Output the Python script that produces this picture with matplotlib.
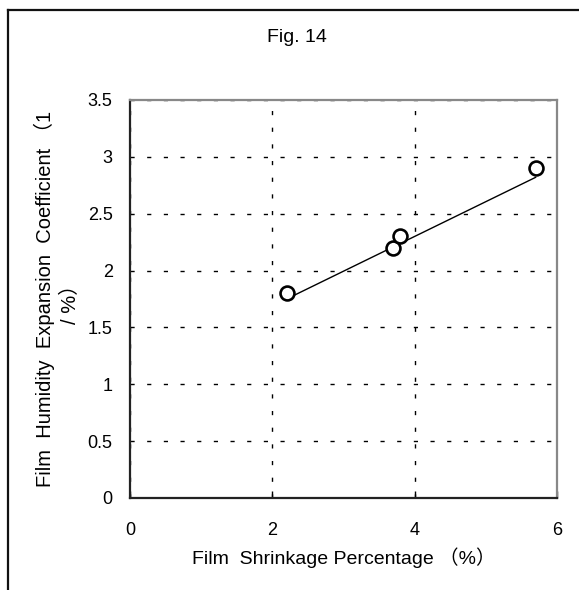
import matplotlib
matplotlib.use("Agg")
import matplotlib.pyplot as plt
from matplotlib.lines import Line2D

# ---- data ----
shrinkage = [2.2, 3.7, 3.8, 5.7]          # Film shrinkage percentage (%)
expansion = [1.8, 2.2, 2.3, 2.9]          # Film humidity expansion coefficient (1/%)
trend_x = [2.2, 5.7]                       # trend line ends
trend_y = [1.75, 2.82]
x_ticks = [0, 2, 4, 6]
y_ticks = [0, 0.5, 1, 1.5, 2, 2.5, 3, 3.5]
y_tick_labels = ["0", "0.5", "1", "1.5", "2", "2.5", "3", "3.5"]
title_text = "Fig. 14"
x_label = "Film  Shrinkage Percentage （%）"
y_label = "Film  Humidity  Expansion  Coefficient （1\n/ %）"

FONT = ["Liberation Sans", "Noto Sans CJK SC", "DejaVu Sans"]
plt.rcParams["font.family"] = FONT

W, H = 579, 590
fig = plt.figure(figsize=(W / 100, H / 100), dpi=100)

def px(x, y):
    return x / W, 1 - y / H

# axes placement (pixels)
L, R, T, B = 130, 557, 100, 498
ax = fig.add_axes([L / W, 1 - B / H, (R - L) / W, (B - T) / H])

ax.set_xlim(0, 6)
ax.set_ylim(0, 3.5)
ax.set_xticks(x_ticks)
ax.set_yticks(y_ticks)
ax.set_yticklabels(y_tick_labels)

# grid
ax.grid(True, color="black", linestyle=(0, (3, 9)), linewidth=1.0)
ax.set_axisbelow(True)

# spines
for s in ["left", "bottom"]:
    ax.spines[s].set_color("#222222")
    ax.spines[s].set_linewidth(1.6)
for s in ["top", "right"]:
    ax.spines[s].set_color("#888888")
    ax.spines[s].set_linewidth(1.6)

ax.tick_params(axis="x", direction="in", length=5, width=1, color="black",
               labelsize=13, pad=17.5)
ax.tick_params(axis="y", length=0, labelsize=13, pad=12.5)

# data
ax.plot(trend_x, trend_y, color="black", linewidth=1.0, zorder=3)
ax.plot(shrinkage, expansion, linestyle="none", marker="o", markersize=10,
        markerfacecolor="white", markeredgecolor="black", markeredgewidth=1.9,
        zorder=4)

# labels
ax.set_xlabel(x_label, fontsize=14, family=FONT)
ax.xaxis.set_label_coords(0.5, -0.125)
fig.text(*px(57, 299), y_label, rotation=90, ha="center", va="center",
         multialignment="center", fontsize=14.5, family=FONT, linespacing=1.4)
fig.text(*px(297, 37), title_text, ha="center", va="center", fontsize=14)

# figure border (left and top edges)
fig.add_artist(Line2D([8 / W, 8 / W], [0, 1 - 10 / H], transform=fig.transFigure,
                      color="#111111", linewidth=1.6))
fig.add_artist(Line2D([8 / W, 1], [1 - 10 / H, 1 - 10 / H], transform=fig.transFigure,
                      color="#111111", linewidth=1.6))

fig.savefig("out.png", dpi=100)
